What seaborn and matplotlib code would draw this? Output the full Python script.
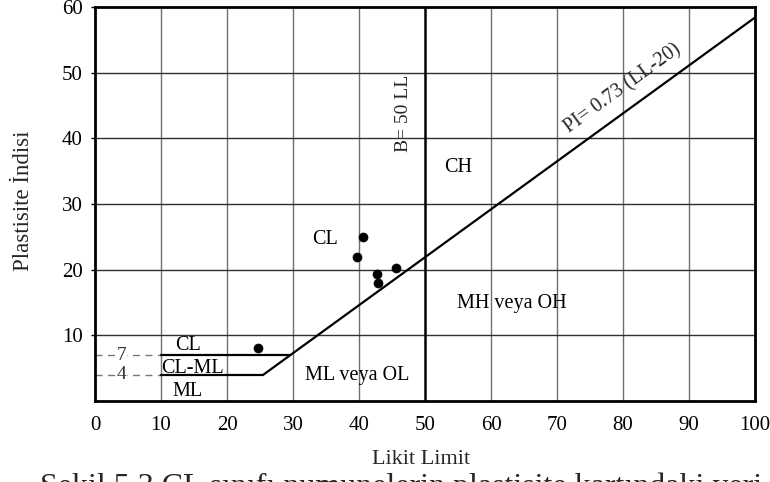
import matplotlib
matplotlib.use("Agg")
import matplotlib.pyplot as plt
import seaborn as sns
import pandas as pd

# ---- data ----
sample_ll = [24.7, 40.6, 39.7, 42.8, 42.9, 45.6]
sample_pi = [8.1, 25.0, 22.0, 19.4, 17.9, 20.2]

aline_ll = [25.5, 100.0]
aline_pi = [4.0, 58.4]
upper_ll = [10.0, 29.6]       # PI = 7 boundary
upper_pi = [7.0, 7.0]
lower_ll = [10.0, 25.5]       # PI = 4 boundary
lower_pi = [4.0, 4.0]
bline_ll = [50.0, 50.0]
bline_pi = [0.0, 60.0]

x_ticks = [0, 10, 20, 30, 40, 50, 60, 70, 80, 90, 100]
y_ticks = [10, 20, 30, 40, 50, 60]

zone_labels = ["CH", "CL", "MH veya OH", "ML veya OL", "CL", "CL-ML", "ML"]
zone_ll = [55.0, 34.8, 63.2, 39.7, 14.1, 14.7, 14.0]
zone_pi = [35.6, 24.6, 14.8, 3.9, 8.4, 4.9, 1.5]

sns.set_theme(style="white")
plt.rcParams["font.family"] = ["Liberation Serif", "DejaVu Serif"]

fig = plt.figure(figsize=(7.7, 4.82), dpi=100)
ax = fig.add_axes([95/770, 81/482, 660/770, 394/482])

# grid
for xv in x_ticks[1:-1]:
    if xv != 50:
        ax.axvline(xv, color="#707070", lw=1.0, zorder=1)
for yv in y_ticks[:-1]:
    ax.axhline(yv, color="#303030", lw=1.0, zorder=1)

df_a = pd.DataFrame({"LL": aline_ll, "PI": aline_pi})
sns.lineplot(data=df_a, x="LL", y="PI", color="black", lw=1.6, ax=ax, zorder=3)
sns.lineplot(x=upper_ll, y=upper_pi, color="black", lw=1.6, ax=ax, zorder=3)
sns.lineplot(x=lower_ll, y=lower_pi, color="black", lw=1.6, ax=ax, zorder=3)
sns.lineplot(x=bline_ll, y=bline_pi, color="black", lw=1.8, ax=ax, zorder=3,
             estimator=None, sort=False, orient="y")
sns.lineplot(x=[0, 10], y=[7, 7], color="#777777", lw=1.0, ls=(0, (5, 4)), ax=ax, zorder=2)
sns.lineplot(x=[0, 10], y=[4, 4], color="#777777", lw=1.0, ls=(0, (5, 4)), ax=ax, zorder=2)

df_s = pd.DataFrame({"LL": sample_ll, "PI": sample_pi})
sns.scatterplot(data=df_s, x="LL", y="PI", color="black", s=42, edgecolor="black",
                ax=ax, zorder=5)

for lab, lx, ly in zip(zone_labels, zone_ll, zone_pi):
    ax.text(lx, ly, lab, ha="center", va="center", fontsize=14.5, color="black", zorder=6)

ax.text(4.0, 7.0, "7", ha="center", va="center", fontsize=14, color="#333333",
        bbox=dict(facecolor="white", edgecolor="none", pad=0.3), zorder=4)
ax.text(4.0, 4.0, "4", ha="center", va="center", fontsize=14, color="#333333",
        bbox=dict(facecolor="white", edgecolor="none", pad=0.3), zorder=4)

ax.text(46.8, 43.8, "B= 50 LL", rotation=90, ha="center", va="center", fontsize=14)
ax.text(80.0, 47.6, "PI= 0.73 (LL-20)", rotation=36, ha="center", va="center",
        fontsize=14.5, rotation_mode="anchor")

ax.set_xlim(0, 100)
ax.set_ylim(0, 60)
ax.set_xticks(x_ticks)
ax.set_yticks(y_ticks)
ax.tick_params(axis="both", labelsize=15, colors="black")
ax.tick_params(axis="x", length=0, pad=11)
ax.tick_params(axis="y", length=3, width=1, direction="out", pad=6, left=True)
for sp in ax.spines.values():
    sp.set_color("black")
    sp.set_linewidth(2.0)
ax.set_xlabel("")
ax.set_ylabel("")

fig.text(24/770, 1 - 201/482, "Plastisite İndisi", rotation=90, ha="center", va="center",
         fontsize=16.5)
fig.text(421/770, 1 - 459/482, "Likit Limit", ha="center", va="center", fontsize=16)
fig.text(40/770, 9/482, "Şekil 5.3 CL sınıfı numunelerin plastisite kartındaki yeri",
         ha="left", va="top", fontsize=23)

fig.savefig("out.png", dpi=100)
